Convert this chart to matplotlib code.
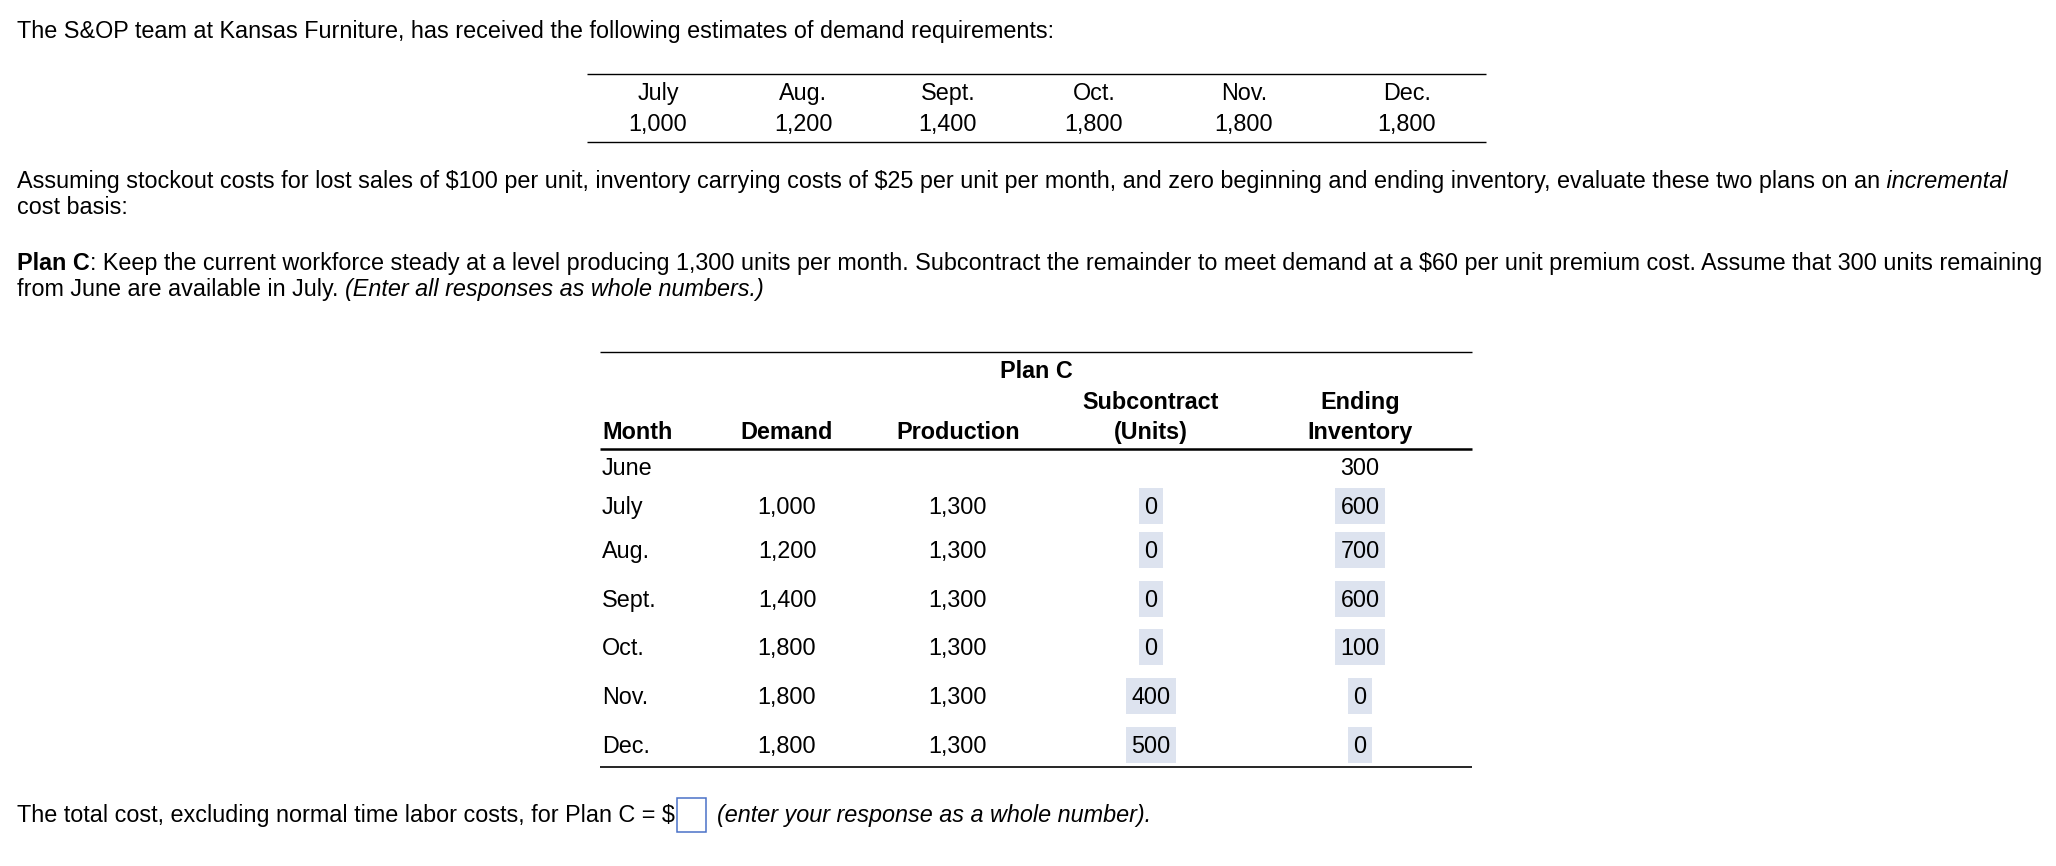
import matplotlib
matplotlib.use("Agg")
import matplotlib.pyplot as plt
from matplotlib.patches import Rectangle

plt.rcParams['font.family'] = ['Liberation Sans', 'DejaVu Sans']
plt.rcParams['text.parse_math'] = False

# demand estimates
top_months = ['July', 'Aug.', 'Sept.', 'Oct.', 'Nov.', 'Dec.']
top_demand = [1000, 1200, 1400, 1800, 1800, 1800]

# plan C table
plan_months = ['June', 'July', 'Aug.', 'Sept.', 'Oct.', 'Nov.', 'Dec.']
plan_demand = [None, 1000, 1200, 1400, 1800, 1800, 1800]
plan_production = [None, 1300, 1300, 1300, 1300, 1300, 1300]
plan_subcontract = [None, 0, 0, 0, 0, 400, 500]
plan_ending_inv = [300, 600, 700, 600, 100, 0, 0]

FS = 16.85
HILITE = '#dde3ef'
CAP = 8.4  # half cap height in px

fig = plt.figure(figsize=(20.56, 8.66), dpi=100)
ax = fig.add_axes([0, 0, 1, 1])
ax.set_xlim(0, 2056)
ax.set_ylim(866, 0)
ax.axis('off')
renderer = fig.canvas.get_renderer()


def fmt(v):
    return '' if v is None else f'{v:,}'


def run(x, y, pieces):
    # write pieces of text one after another on a line
    for txt, style in pieces:
        t = ax.text(x, y, txt, fontsize=FS, va='baseline', ha='left',
                    fontweight='bold' if style == 'b' else 'normal',
                    fontstyle='italic' if style == 'i' else 'normal')
        x += t.get_window_extent(renderer).width
    return x


def hline(x0, x1, y, lw):
    ax.plot([x0, x1], [y, y], color='black', lw=lw, solid_capstyle='butt')


def cell(x, y, txt, weight='normal', box=False):
    t = ax.text(x, y, txt, fontsize=FS, va='baseline', ha='center', fontweight=weight, zorder=3)
    if box:
        w = t.get_window_extent(renderer).width + 11
        ax.add_patch(Rectangle((x - w / 2, y - CAP - 18), w, 36, fc=HILITE, ec='none', zorder=2))


# intro
run(17, 38, [('The S&OP team at Kansas Furniture, has received the following estimates of demand requirements:', 'r')])

# top table
top_x = [658, 803, 948, 1094, 1244, 1407]
hline(587, 1486, 74, 1.0)
for x, m, d in zip(top_x, top_months, top_demand):
    cell(x, 100, m)
    cell(x, 131, fmt(d))
hline(587, 1486, 142, 1.0)

run(17, 188, [('Assuming stockout costs for lost sales of $100 per unit, inventory carrying costs of $25 per unit per month, and zero beginning and ending inventory, evaluate these two plans on an', 'r'),
              (' incremental', 'i')])
run(17, 214, [('cost basis:', 'r')])

run(17, 270, [('Plan C', 'b'),
              (': Keep the current workforce steady at a level producing 1,300 units per month. Subcontract the remainder to meet demand at a $60 per unit premium cost. Assume that 300 units remaining', 'r')])
run(17, 296, [('from June are available in July. ', 'r'), ('(Enter all responses as whole numbers.)', 'i')])

# plan C table
hline(600, 1472, 352, 1.0)
cell(1036, 378, 'Plan C', 'bold')
col_x = [787, 958, 1151, 1360]
cell(col_x[2], 409, 'Subcontract', 'bold')
cell(col_x[3], 409, 'Ending', 'bold')
ax.text(602, 439, 'Month', fontsize=FS, fontweight='bold', va='baseline', ha='left')
cell(col_x[0], 439, 'Demand', 'bold')
cell(col_x[1], 439, 'Production', 'bold')
cell(col_x[2], 439, '(Units)', 'bold')
cell(col_x[3], 439, 'Inventory', 'bold')
hline(600, 1472, 449, 1.8)

row_y = [475, 514, 558, 607, 655, 704, 753]
for i, y in enumerate(row_y):
    ax.text(602, y, plan_months[i], fontsize=FS, va='baseline', ha='left')
    cell(col_x[0], y, fmt(plan_demand[i]))
    cell(col_x[1], y, fmt(plan_production[i]))
    if plan_subcontract[i] is not None:
        cell(col_x[2], y, fmt(plan_subcontract[i]), box=True)
    cell(col_x[3], y, fmt(plan_ending_inv[i]), box=(i > 0))
hline(600, 1472, 767, 1.2)

# answer line
x = run(17, 822, [('The total cost, excluding normal time labor costs, for Plan C = $', 'r')])
ax.add_patch(Rectangle((x + 2, 798), 29, 34, fc='white', ec='#4a72c8', lw=1.1))
run(x + 42, 822, [('(enter your response as a whole number).', 'i')])

fig.savefig('out.png', dpi=100)
